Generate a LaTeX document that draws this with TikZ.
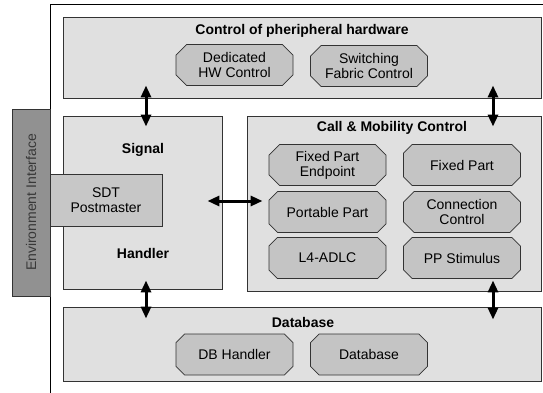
\documentclass[tikz,border=0pt]{standalone}
\usepackage{fontspec}
\setmainfont{Liberation Sans}
\usetikzlibrary{arrows.meta,shapes.misc}
\definecolor{boxfill}{gray}{0.88}
\definecolor{octfill}{gray}{0.77}
\definecolor{sdtfill}{gray}{0.78}
\definecolor{envfill}{gray}{0.57}
\definecolor{envtext}{gray}{0.22}
\definecolor{edge}{gray}{0.2}
\begin{document}
\begin{tikzpicture}[x=1pt,y=-1pt,
  every node/.style={font=\fontsize{14}{15}\selectfont, inner sep=0pt},
  area/.style={draw=edge, line width=0.9pt, fill=boxfill},
  title/.style={font=\fontsize{14}{15}\selectfont\bfseries},
  oct/.style={chamfered rectangle, chamfered rectangle xsep=7pt,
    draw=edge, line width=0.7pt, fill=octfill, align=center,
    minimum width=117pt, minimum height=41pt},
  link/.style={line width=3pt, {Triangle[length=12pt,width=10pt]}-{Triangle[length=12pt,width=10pt]}}
]
\useasboundingbox (0,0) rectangle (543,393);

% outer frame
\draw[line width=0.9pt] (50,393) -- (50,4) -- (543,4);

% environment interface bar
\node[draw=edge, line width=0.8pt, fill=envfill, minimum width=38pt, minimum height=187pt]
  (env) at (31,202.5) {};
\node[rotate=90, text=envtext] (envlbl) at (env.center) {Environment Interface};

% main areas
\node[area, minimum width=478pt, minimum height=81pt] (top) at (302,57.5) {};
\node[title] (toptitle) at (302,30.5) {Control of pheripheral hardware};

\node[area, minimum width=159pt, minimum height=173pt] (sig) at (142.5,202.5) {};
\node[title] (sigtitle) at (143,150) {Signal};
\node[title] (sighandler) at (143,253) {Handler};

\node[area, minimum width=294pt, minimum height=175pt] (call) at (394,203.5) {};
\node[title] (calltitle) at (392,127.5) {Call \& Mobility Control};

\node[area, minimum width=478pt, minimum height=74pt] (db) at (302,344) {};
\node[title] (dbtitle) at (303,322) {Database};

% SDT postmaster overlapping the signal handler
\node[draw=edge, line width=0.8pt, fill=sdtfill, minimum width=112pt, minimum height=52pt, align=center]
  (sdt) at (106,200) {SDT\\Postmaster};

% function blocks
\node[oct] (hw)  at (234.5,65) {Dedicated\\HW Control};
\node[oct] (sw)  at (369,66)   {Switching\\Fabric Control};

\node[oct] (fpe) at (327.5,165) {Fixed Part\\Endpoint};
\node[oct] (fp)  at (462,165)   {Fixed Part};
\node[oct] (pp)  at (327.5,212) {Portable Part};
\node[oct] (cc)  at (462,212)   {Connection\\Control};
\node[oct] (l4)  at (327.5,258) {L4-ADLC};
\node[oct] (pps) at (462,258)   {PP Stimulus};

\node[oct] (dbh) at (234.5,354.5) {DB Handler};
\node[oct] (dbs) at (369,354.5)   {Database};

% connectors between areas
\draw[link] ([xshift=3.5pt,yshift=13pt]sig.north |- top.south) -- ([xshift=3.5pt,yshift=-11pt]sig.north);
\draw[link] ([xshift=99pt,yshift=13pt]call.north |- top.south) -- ([xshift=99pt,yshift=-11pt]call.north);
\draw[link] ([xshift=3.5pt,yshift=9pt]sig.south) -- ([xshift=3.5pt,yshift=-12pt]sig.south |- db.north);
\draw[link] ([xshift=99pt,yshift=11pt]call.south) -- ([xshift=99pt,yshift=-13pt]call.south |- db.north);
\draw[link] ([xshift=-15pt,yshift=1.5pt]sig.east) -- ([xshift=16pt,yshift=1.5pt]sig.east -| call.west);
\end{tikzpicture}
\end{document}
